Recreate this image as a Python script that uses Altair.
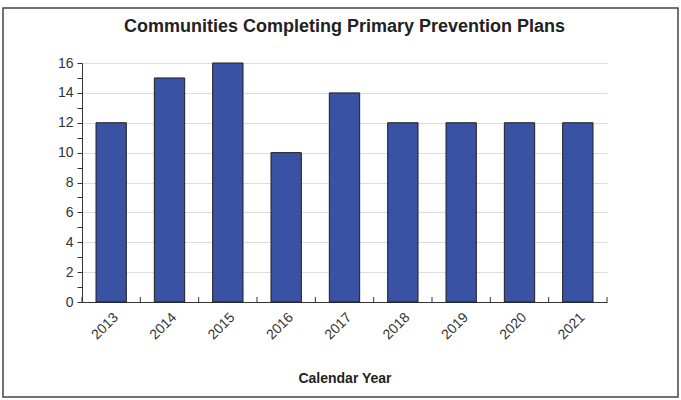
import altair as alt
import pandas as pd

years = ["2013", "2014", "2015", "2016", "2017", "2018", "2019", "2020", "2021"]
counts = [12, 15, 16, 10, 14, 12, 12, 12, 12]
y_ticks = list(range(0, 17))

df = pd.DataFrame({"year": years, "count": counts})

FONT = "Liberation Sans"
PAD_IN = 0.48
W, H = 525, 239

x_enc = alt.X("year:N", sort=years, title="Calendar Year",
              scale=alt.Scale(paddingInner=PAD_IN, paddingOuter=PAD_IN / 2),
              axis=alt.Axis(labelAngle=-45, ticks=False, tickSize=0,
                            labelFontSize=14, labelFont=FONT, labelColor="#333",
                            titleFontSize=14, titleFont=FONT, titleColor="#222",
                            titleFontWeight="bold", titlePadding=30,
                            domainColor="#333", labelPadding=8))

bars = alt.Chart(df).mark_bar(
    color="#3952a3", stroke="#1e1e1e", strokeWidth=1
).encode(
    x=x_enc,
    y=alt.Y("count:Q", title=None,
            scale=alt.Scale(domain=[0, 16], nice=False),
            axis=alt.Axis(values=y_ticks, tickSize=5,
                          labelExpr="datum.value % 2 == 0 ? datum.label : ''",
                          gridOpacity={"condition": {"test": "datum.value % 2 == 1", "value": 0}, "value": 1},
                          gridColor="#dcdcdc",
                          labelFontSize=14, labelFont=FONT, labelColor="#333",
                          domainColor="#333", tickColor="#333", labelPadding=4)),
)

# inward ticks at the category boundaries
step = W / len(years)
xticks = alt.Chart(df).mark_rule(color="#333", strokeWidth=1,
                                 xOffset=-(PAD_IN / 2) * step).encode(
    x=alt.X("year:N", sort=years, bandPosition=0),
    y=alt.value(H - 5), y2=alt.value(H)
)
xtick_end = alt.Chart(pd.DataFrame({"k": [0]})).mark_rule(color="#333", strokeWidth=1).encode(
    x=alt.value(W), y=alt.value(H - 5), y2=alt.value(H)
)

frame = alt.Chart(pd.DataFrame({"k": [0]})).mark_rect(
    fill=None, stroke="#444", strokeWidth=1.5, clip=False
).encode(
    x=alt.value(-79), x2=alt.value(596), y=alt.value(-55), y2=alt.value(334)
)

chart = alt.layer(bars, xticks, xtick_end, frame).properties(
    width=W, height=H,
    padding={"left": 82, "top": 63, "right": 74, "bottom": 98},
    autosize=alt.AutoSizeParams(type="none"),
    title=alt.TitleParams("Communities Completing Primary Prevention Plans",
                          font=FONT, fontSize=18, fontWeight="bold",
                          color="#222", anchor="middle", offset=-29),
).configure_view(stroke=None)

chart.save("out.html", embed_options={"renderer": "svg", "actions": False})
